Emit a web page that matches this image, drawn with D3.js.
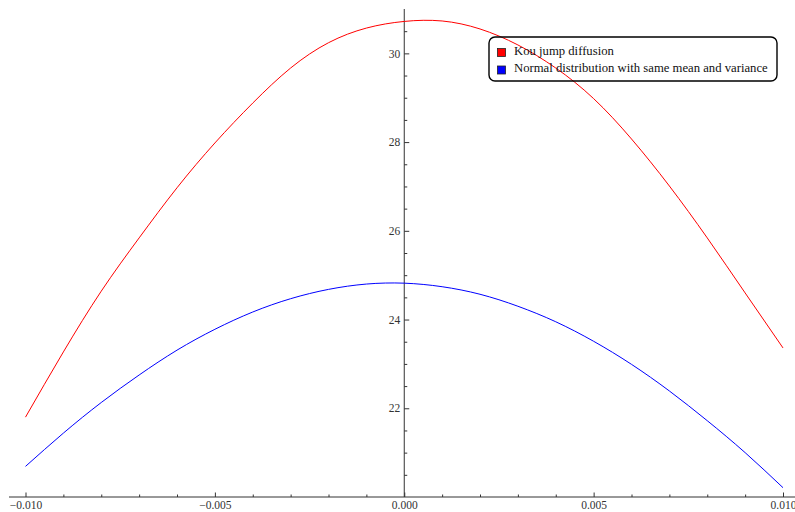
<!DOCTYPE html>
<html>
<head>
<meta charset="utf-8">
<script src="https://cdn.jsdelivr.net/npm/d3@7"></script>
<style>
  html, body { margin: 0; padding: 0; background: #fff; }
  svg { display: block; }
  .tick text { font-family: "Liberation Serif", "Times New Roman", serif; fill: #333; }
</style>
</head>
<body>
<svg id="chart" width="795" height="512"></svg>
<script>
// x values of the density samples
const xs = [-0.010, -0.009, -0.008, -0.007, -0.006, -0.005, -0.004, -0.003, -0.002, -0.001,
            0.000, 0.001, 0.002, 0.003, 0.004, 0.005, 0.006, 0.007, 0.008, 0.009, 0.010];
// Kou jump diffusion density
const kou = [21.80, 23.27, 24.64, 25.84, 26.97, 27.98, 28.88, 29.67, 30.24, 30.57,
             30.72, 30.73, 30.55, 30.19, 29.67, 28.98, 28.07, 27.01, 25.84, 24.60, 23.36];
// Normal density with the same mean and variance
const normal = [20.69, 21.44, 22.13, 22.75, 23.31, 23.78, 24.17, 24.47, 24.68, 24.80,
                24.82, 24.74, 24.57, 24.30, 23.95, 23.51, 22.99, 22.39, 21.72, 21.00, 20.21];
const seriesNames = ["Kou jump diffusion", "Normal distribution with same mean and variance"];
const seriesColors = ["#ff0000", "#0000ff"];
const xMajorTicks = [-0.010, -0.005, 0.000, 0.005, 0.010];
const yMajorTicks = [22, 24, 26, 28, 30];

const svg = d3.select("#chart");
const W = 795, H = 512;

const x = d3.scaleLinear().domain([-0.010, 0.010]).range([25.5, 783]);
const y = d3.scaleLinear().domain([20, 31]).range([497, 9]);

// minor ticks
const xMinor = d3.range(-10, 11).map(d => d / 1000).filter(v => !xMajorTicks.some(m => Math.abs(m - v) < 1e-9));
const yMinor = d3.range(20.5, 31, 0.5).filter(v => !yMajorTicks.includes(v));

const fmtX = d3.format(".3f");

// x axis
const gx = svg.append("g").attr("transform", `translate(0,${y(20)})`);
gx.call(d3.axisBottom(x).tickValues(xMinor).tickSize(-2.5).tickSizeOuter(0).tickFormat(""));
gx.call(g => g.select(".domain").remove());
const gx2 = svg.append("g").attr("transform", `translate(0,${y(20)})`);
gx2.call(d3.axisBottom(x).tickValues(xMajorTicks).tickSize(-4.5).tickSizeOuter(0).tickPadding(4).tickFormat(fmtX));
gx2.call(g => g.select(".domain").remove());
gx2.selectAll("text").attr("font-size", "11.5px");
svg.append("line")
  .attr("x1", 9).attr("x2", W)
  .attr("y1", y(20)).attr("y2", y(20))
  .attr("stroke", "#333").attr("stroke-width", 1);

// y axis
const gy = svg.append("g").attr("transform", `translate(${x(0)},0)`);
gy.call(d3.axisLeft(y).tickValues(yMinor).tickSize(-3).tickSizeOuter(0).tickFormat(""));
gy.call(g => g.select(".domain").remove());
const gy2 = svg.append("g").attr("transform", `translate(${x(0)},0)`);
gy2.call(d3.axisLeft(y).tickValues(yMajorTicks).tickSize(-5).tickSizeOuter(0).tickPadding(4).tickFormat(d3.format("d")));
gy2.call(g => g.select(".domain").remove());
gy2.selectAll("text").attr("font-size", "11.5px");
svg.append("line")
  .attr("x1", x(0)).attr("x2", x(0))
  .attr("y1", y(31)).attr("y2", y(20))
  .attr("stroke", "#333").attr("stroke-width", 1);
svg.selectAll(".tick line").attr("stroke", "#333");

// curves
const line = d3.line().x(d => x(d[0])).y(d => y(d[1])).curve(d3.curveNatural);
[kou, normal].forEach((vals, i) => {
  svg.append("path")
    .datum(xs.map((v, j) => [v, vals[j]]))
    .attr("d", line)
    .attr("fill", "none")
    .attr("stroke", seriesColors[i])
    .attr("stroke-width", 1);
});

// legend
const lg = svg.append("g").attr("transform", "translate(489,37)");
lg.append("rect")
  .attr("width", 288).attr("height", 44).attr("rx", 6).attr("ry", 6)
  .attr("fill", "none").attr("stroke", "#000").attr("stroke-width", 1.4);
seriesNames.forEach((name, i) => {
  lg.append("rect")
    .attr("x", 8.5).attr("y", 11.5 + i * 17.5).attr("width", 8).attr("height", 8)
    .attr("fill", seriesColors[i]).attr("stroke", "#222").attr("stroke-width", 0.8);
  lg.append("text")
    .attr("x", 25).attr("y", 18 + i * 17)
    .attr("font-family", "'Liberation Serif', 'Times New Roman', serif")
    .attr("font-size", "12.7px").attr("fill", "#111")
    .text(name);
});
</script>
</body>
</html>
